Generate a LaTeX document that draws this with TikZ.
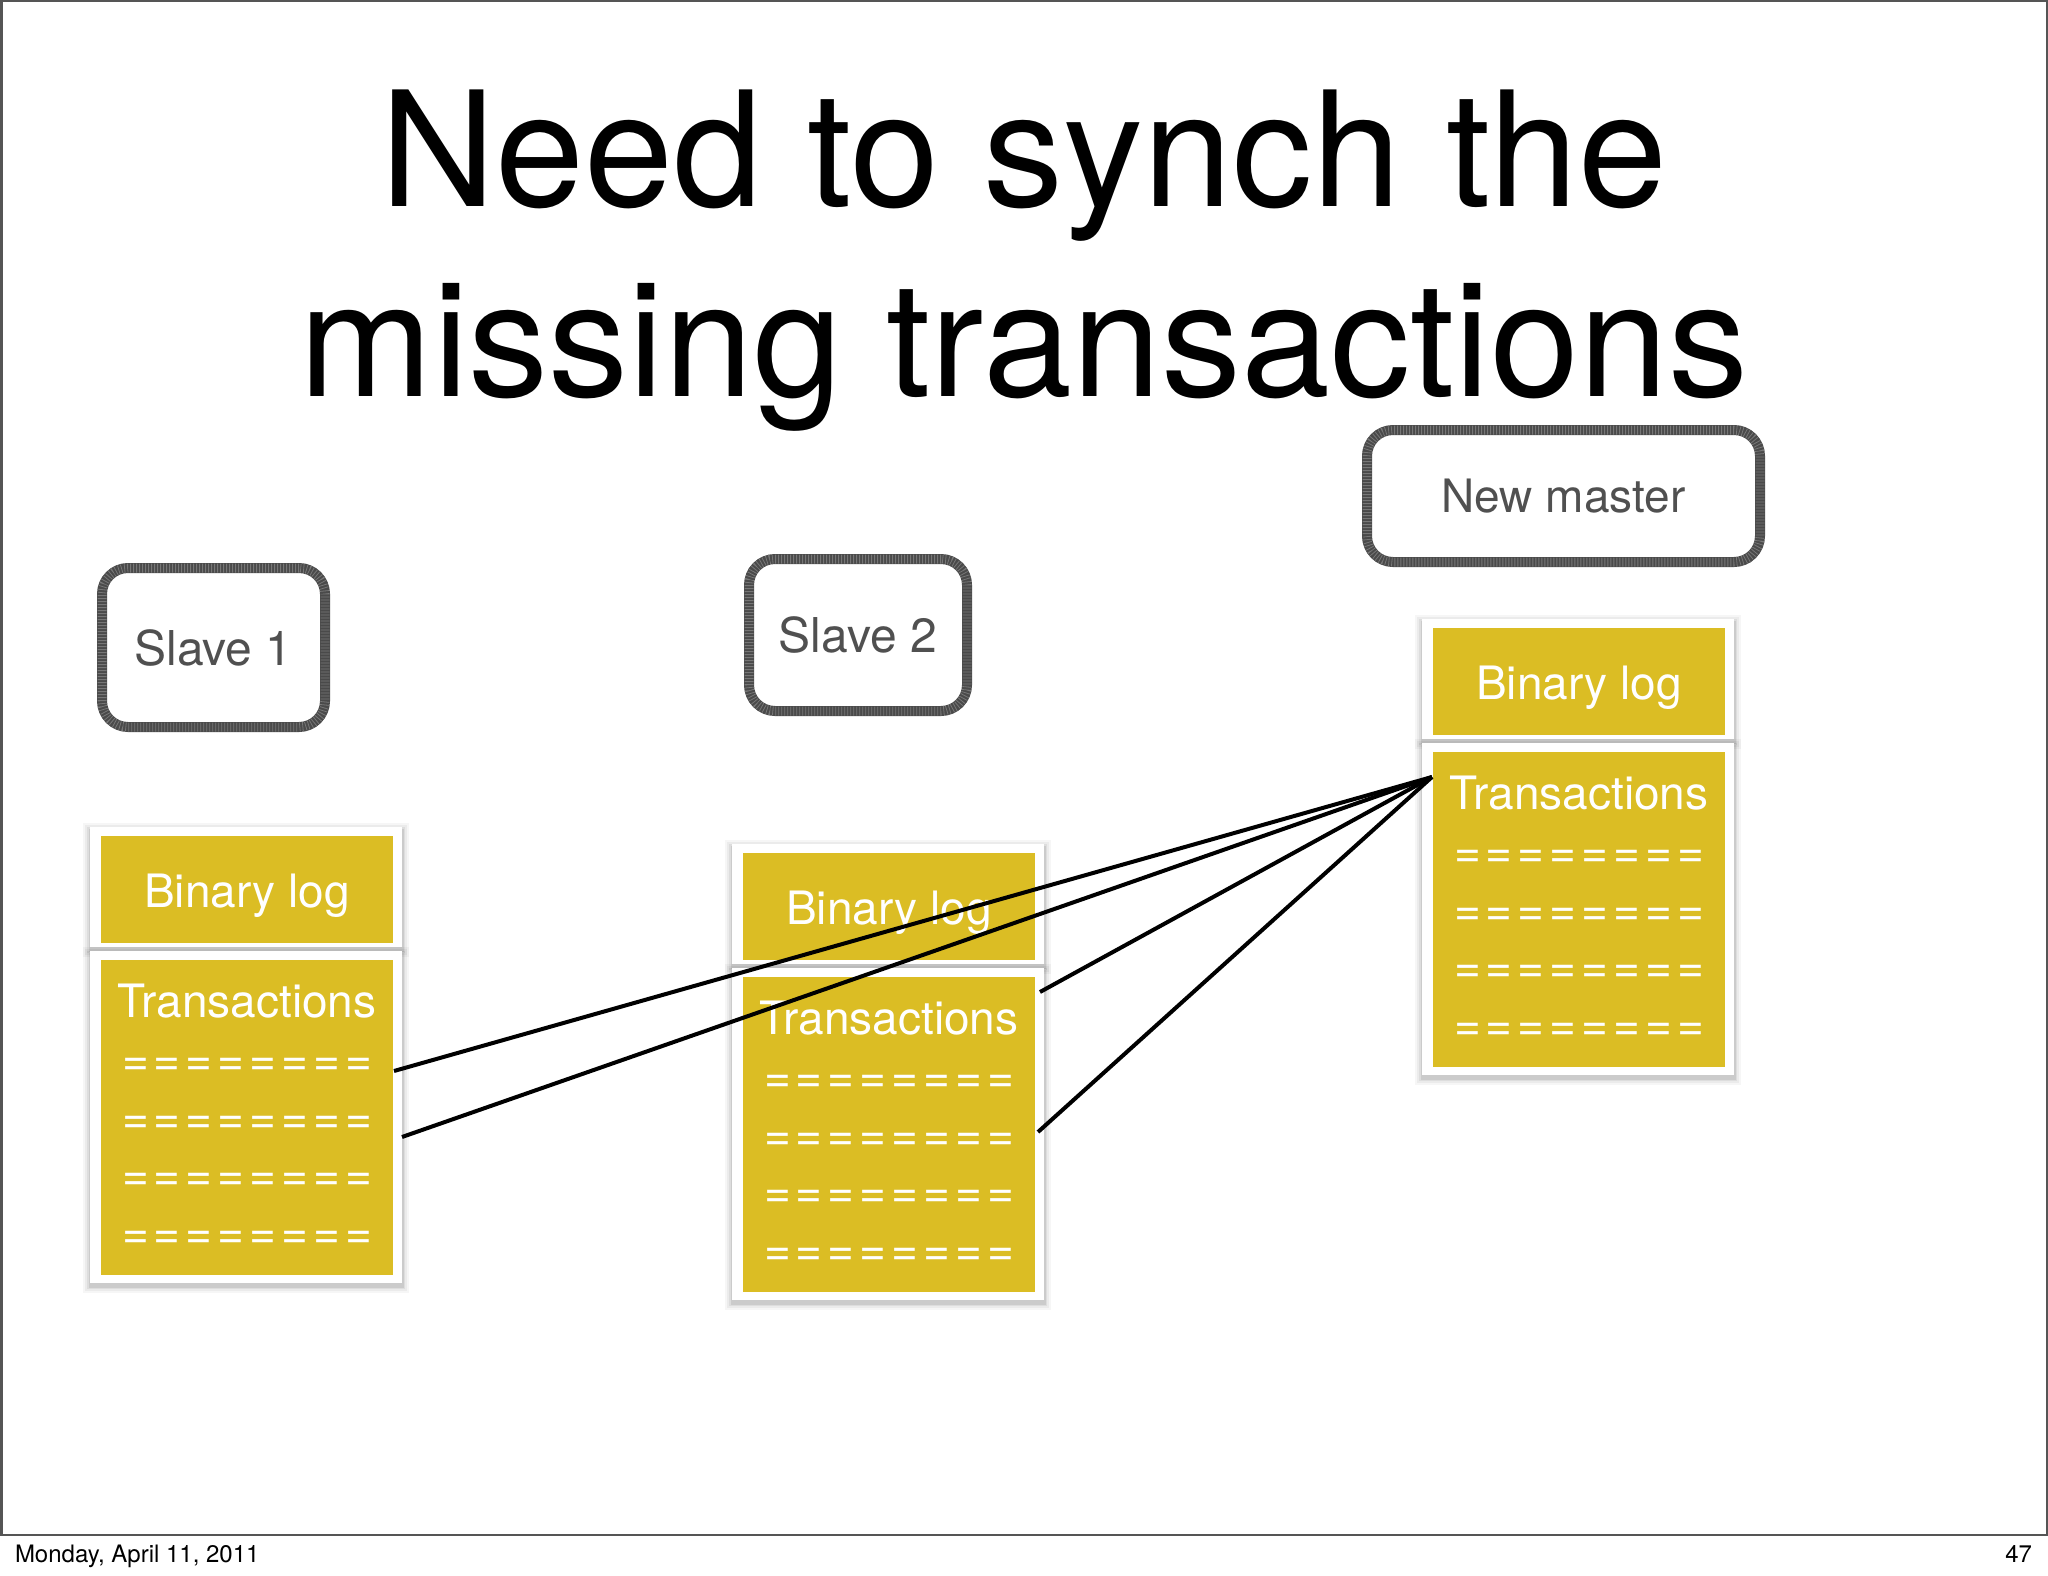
\documentclass[tikz,border=0pt]{standalone}
\usepackage{fontspec}
\setmainfont{TeX Gyre Heros}
\usetikzlibrary{decorations.pathmorphing}
\definecolor{ylw}{RGB}{219,189,36}
\definecolor{chalk}{RGB}{74,74,74}
\definecolor{lbl}{RGB}{80,80,80}
\definecolor{framec}{RGB}{85,85,85}
\newcommand\myeqrow{=\kern5pt=\kern5pt=\kern5pt=\kern5pt=\kern5pt=\kern5pt=\kern5pt=}
\newcommand\panelshadow[4]{%
  \foreach \e/\o in {7/0.035,5/0.045,3/0.06,1.5/0.08}{%
    \fill[black,opacity=\o] ({#1-\e},{#2-\e+3}) rectangle ({#3+\e},{#4+\e+3});}}
\newcommand\drawstack[3]{%
  \begin{scope}[shift={(#2,#3)}]
    \panelshadow{90}{827}{402}{947}
    \fill[white] (90,827) rectangle (402,947);
    \panelshadow{90}{951}{402}{1283}
    \fill[white] (90,951) rectangle (402,1283);
    \node[ybox, minimum width=292pt, minimum height=107pt] (#1bl) at (101,836) {};
    \node[ybox, minimum width=292pt, minimum height=315pt] (#1tr) at (101,960) {};
    \node[wtext] (#1bltxt) at (247,907) {Binary log};
    \node[wtext] (#1trtxt) at (247,1017) {Transactions};
    \node[eqtext] (#1eqa) at (247,1075.6) {\myeqrow};
    \node[eqtext] (#1eqb) at (247,1133.1) {\myeqrow};
    \node[eqtext] (#1eqc) at (247,1190.6) {\myeqrow};
    \node[eqtext] (#1eqd) at (247,1248.1) {\myeqrow};
  \end{scope}}
\tikzset{
  every node/.style={inner sep=0pt, outer sep=0pt},
  titletext/.style={font=\fontsize{160}{190}\selectfont, text=black, anchor=base},
  wtext/.style={font=\fontsize{46}{50}\selectfont, text=white, anchor=base},
  eqtext/.style={font=\fontsize{46}{50}\selectfont, text=white, anchor=base},
  ybox/.style={fill=ylw, draw=none, rectangle, anchor=north west},
  link/.style={draw=black, line width=4pt},
  roughbox/.style={rectangle, draw=chalk, line width=10pt, rounded corners=26pt,
    text=lbl,
    postaction={draw=chalk, sharp corners, line width=3pt, line join=round, line cap=round, decorate,
      decoration={random steps, segment length=2.5pt, amplitude=3pt}},
    postaction={draw=chalk, sharp corners, line width=2pt, line join=round, line cap=round, decorate,
      decoration={random steps, segment length=3pt, amplitude=3.5pt}},
    postaction={draw=white, sharp corners, line width=9pt, opacity=0.25,
      dash pattern=on 0.8pt off 2.2pt}},
}
\begin{document}
\begin{tikzpicture}[x=1pt, y=-1pt]
\pgfmathsetseed{7}
\useasboundingbox (0,0) rectangle (2048,1576);
\fill[white] (0,0) rectangle (2048,1576);
\draw[framec, line width=2.5pt] (1.25,1.25) rectangle (2046.75,1535);

% title
\node[titletext] (title1) at (1024,206) {Need to synch the};
\node[titletext] (title2) at (1024,396) {missing transactions};

% server labels
\node[roughbox, minimum width=223pt, minimum height=159pt,
      font=\fontsize{48}{52}\selectfont] (slave1) at (213.5,647.5) {Slave 1};
\node[roughbox, minimum width=218pt, minimum height=152pt,
      font=\fontsize{48}{52}\selectfont] (slave2) at (858,635) {Slave 2};
\node[roughbox, minimum width=393pt, minimum height=132pt,
      font=\fontsize{46}{50}\selectfont] (newmaster) at (1563.5,496) {New master};

% stacks
\drawstack{sa}{0}{0}
\drawstack{sb}{642}{17}
\drawstack{nm}{1332}{-208}

% connectors
\coordinate (m) at (1432,777);
\coordinate (e1) at (394,1071);
\coordinate (e2) at (402,1137);
\coordinate (e3) at (1040,992);
\coordinate (e4) at (1038,1132);
\draw[link] (m) -- (e1);
\draw[link] (m) -- (e2);
\draw[link] (m) -- (e3);
\draw[link] (m) -- (e4);

% footer
\node[anchor=base west, font=\fontsize{24}{26}\selectfont] (date) at (15,1562) {Monday, April 11, 2011};
\node[anchor=base east, font=\fontsize{24}{26}\selectfont] (page) at (2032,1562) {47};
\end{tikzpicture}
\end{document}
